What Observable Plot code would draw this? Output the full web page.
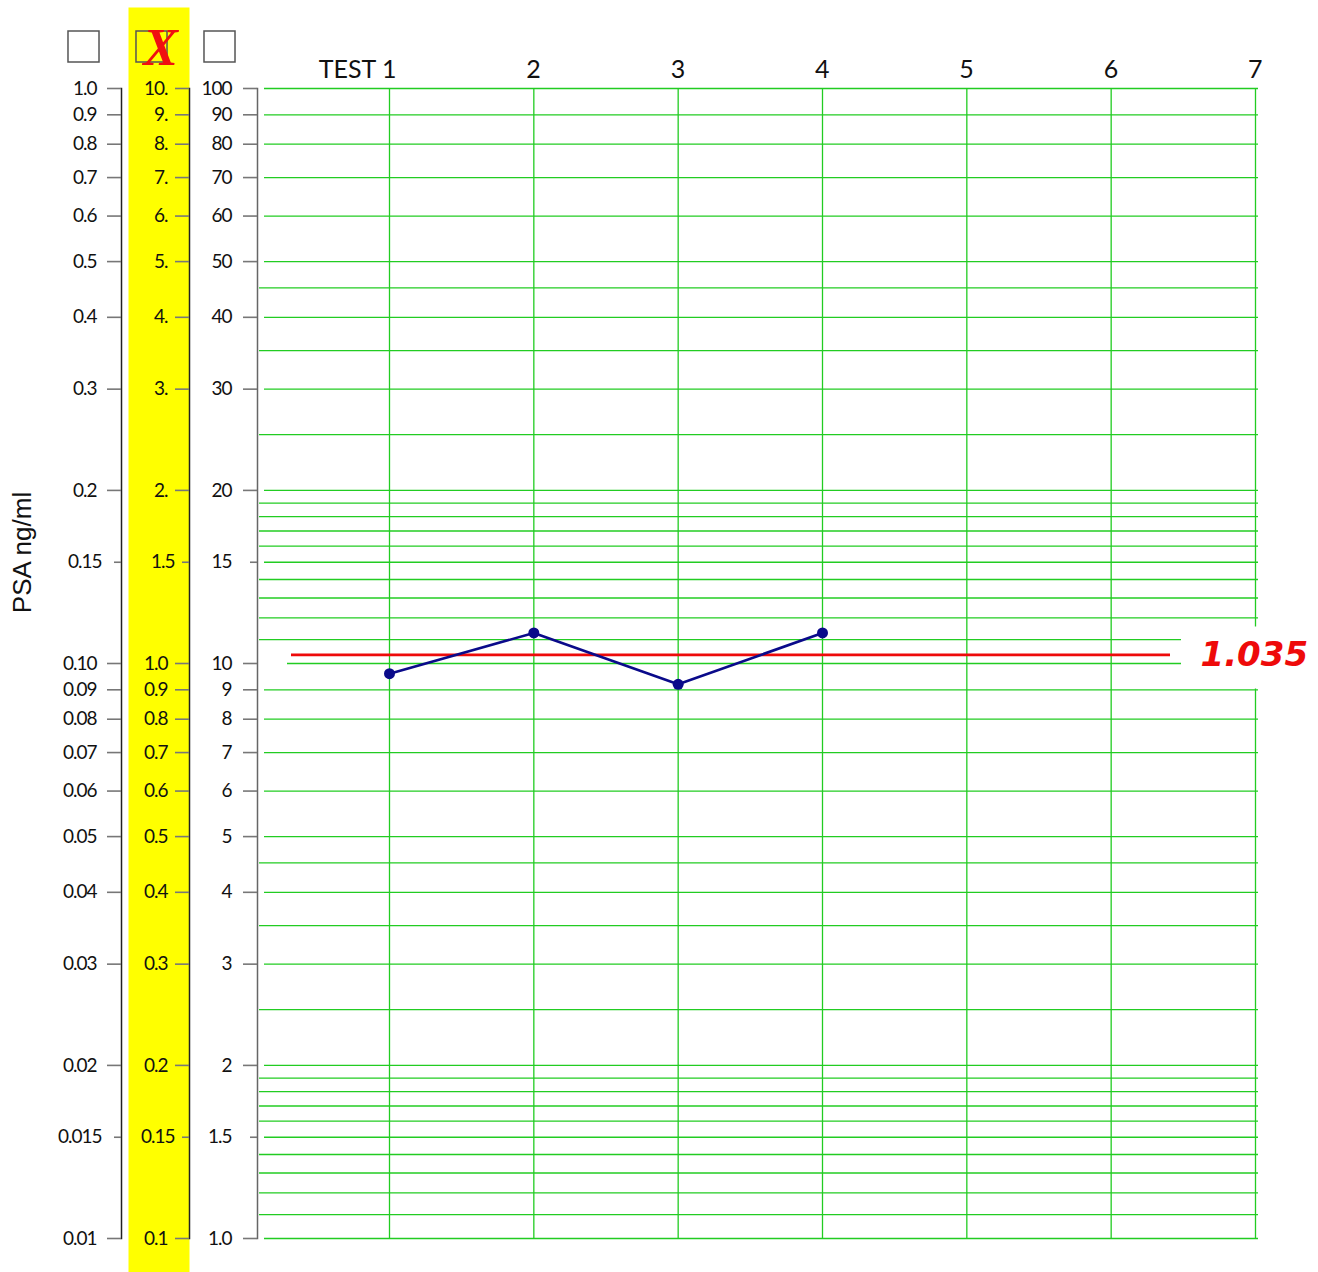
<!DOCTYPE html>
<html>
<head>
<meta charset="utf-8">
<script src="https://cdn.jsdelivr.net/npm/d3@7"></script>
<script src="https://cdn.jsdelivr.net/npm/@observablehq/plot@0.6"></script>
<style>
  html, body { margin: 0; padding: 0; background: #fff; }
  #chart { width: 1318px; height: 1272px; overflow: hidden; }
  #chart g[aria-label="y-axis tick label"] text { letter-spacing: -1px; }
</style>
</head>
<body>
<div id="chart"></div>
<script>
// PSA readings (ng/ml) for each test, read on the highlighted 0.1–10 scale
const tests = [1, 2, 3, 4];
const psa = [0.96, 1.13, 0.92, 1.13];

// Test columns across the top of the sheet
const testSlots = [1, 2, 3, 4, 5, 6, 7];
const testLabels = ["TEST 1", "2", "3", "4", "5", "6", "7"];

// Labelled ticks (in units of the middle scale) and their text on each of the three scales
const majorTicks = [0.1, 0.2, 0.3, 0.4, 0.5, 0.6, 0.7, 0.8, 0.9, 1, 2, 3, 4, 5, 6, 7, 8, 9, 10];
const lowLabels  = ["0.01", "0.02", "0.03", "0.04", "0.05", "0.06", "0.07", "0.08", "0.09", "0.10",
                    "0.2", "0.3", "0.4", "0.5", "0.6", "0.7", "0.8", "0.9", "1.0"];
const midLabels  = ["0.1", "0.2", "0.3", "0.4", "0.5", "0.6", "0.7", "0.8", "0.9", "1.0",
                    "2.", "3.", "4.", "5.", "6.", "7.", "8.", "9.", "10."];
const highLabels = ["1.0", "2", "3", "4", "5", "6", "7", "8", "9", "10",
                    "20", "30", "40", "50", "60", "70", "80", "90", "100"];

// Short "one and a half" ticks
const halfTicks = [0.15, 1.5];
const lowHalfLabels = ["0.015", "0.15"];
const midHalfLabels = ["0.15", "1.5"];
const highHalfLabels = ["1.5", "15"];

// Extra unlabelled ruling of the graph paper
const paperLines = [0.11, 0.12, 0.13, 0.14, 0.16, 0.17, 0.18, 0.19, 0.25, 0.35, 0.45,
                    1.1, 1.2, 1.3, 1.4, 1.6, 1.7, 1.8, 1.9, 2.5, 3.5, 4.5];

const rows = tests.map((t, i) => ({test: t, psa: psa[i]}));
const average = d3.mean(psa);

const GREEN = "#22cc22";
const NAVY = "#0a0a8a";
const RED = "#ee0a0a";

// The three printed scales share one log axis, offset sideways from the grid
const scales = [
  {dx: -136, major: lowLabels,  half: lowHalfLabels,  pad: 11, halfPad: 13, line: "#222"},
  {dx: -68,  major: midLabels,  half: midHalfLabels,  pad: 8,  halfPad: 8,  line: "#222"},
  {dx: 0,    major: highLabels, half: highHalfLabels, pad: 12, halfPad: 19, line: "#666"}
];

function scaleMarks(s, i) {
  const majorText = new Map(majorTicks.map((v, k) => [v, s.major[k]]));
  const halfText = new Map(halfTicks.map((v, k) => [v, s.half[k]]));
  return [
    Plot.frame({anchor: "left", dx: s.dx, stroke: s.line, strokeWidth: 1.5}),
    Plot.axisY(majorTicks, {anchor: "left", label: null, dx: s.dx, tickSize: 14, tickPadding: s.pad,
      tickFormat: (d) => majorText.get(d), stroke: "#777", strokeWidth: 1.6, fill: "#111", fontSize: 19}),
    Plot.axisY(halfTicks, {anchor: "left", label: null, dx: s.dx, tickSize: 7, tickPadding: s.halfPad,
      tickFormat: (d) => halfText.get(d), stroke: "#777", strokeWidth: 1.6, fill: "#111", fontSize: 19}),
    // selection box above each scale
    Plot.dot([i], {frameAnchor: "top-left", dx: s.dx - 38, dy: -42, symbol: "square", r: 17.5,
      fill: "none", stroke: "#555", strokeWidth: 1.5})
  ];
}

const chart = Plot.plot({
  width: 1318,
  height: 1272,
  marginTop: 88,
  marginBottom: 34,
  marginLeft: 257,
  marginRight: 60,
  x: {domain: [1, 7], range: [389, 1255], axis: null},
  y: {type: "log", domain: [0.1, 10], axis: null, label: null},
  style: {fontFamily: "Lato, sans-serif", fontSize: "19px", color: "#111", background: "#fff", overflow: "visible"},
  marks: [
    // highlighted column behind the chosen scale
    Plot.frame({anchor: "left", dx: -98.5, insetTop: -81, insetBottom: -40, stroke: "#ffff00",
      strokeWidth: 61, strokeLinecap: "butt"}),

    // graph paper
    Plot.ruleY(paperLines, {stroke: GREEN, strokeWidth: 1.3, insetLeft: 2}),
    Plot.ruleY([...majorTicks, ...halfTicks], {stroke: GREEN, strokeWidth: 1.3, insetLeft: 7}),
    Plot.ruleX(testSlots, {stroke: GREEN, strokeWidth: 1.3}),

    // clear space around the average line and its label
    Plot.ruleY([average], {stroke: "#fff", strokeWidth: 22, insetLeft: 2, insetRight: 971}),
    Plot.ruleY([average], {stroke: "#fff", strokeWidth: 62, dy: 2.5, insetLeft: 924, insetRight: -60}),

    ...scales.flatMap(scaleMarks),

    Plot.text(testSlots, {x: (d) => d, text: (d, i) => testLabels[i], frameAnchor: "top",
      lineAnchor: "bottom", dy: -11, textAnchor: "end", dx: 7, fontSize: 25, fill: "#111"}),

    Plot.text(["X"], {text: (d) => d, frameAnchor: "top-left", textAnchor: "middle", lineAnchor: "middle",
      dx: -97, dy: -40, fill: "#f01010", fontSize: 52, fontWeight: "bold", fontStyle: "italic",
      fontFamily: "Liberation Serif"}),

    Plot.text(["PSA ng/ml"], {text: (d) => d, frameAnchor: "left", textAnchor: "middle", lineAnchor: "middle",
      rotate: -90, dx: -235, dy: -111, fontSize: 26, fontFamily: "Liberation Sans", fill: "#111"}),

    // average of the readings
    Plot.ruleY([average], {stroke: RED, strokeWidth: 2.6, insetLeft: 34, insetRight: 88}),
    Plot.text([average], {y: (d) => d, text: (d) => d3.format(".3f")(d), frameAnchor: "right",
      textAnchor: "start", dx: -58, fill: RED, fontSize: 34, fontWeight: "bold", fontStyle: "italic",
      fontFamily: "DejaVu Sans"}),

    // readings
    Plot.line(rows, {x: "test", y: "psa", stroke: NAVY, strokeWidth: 2.6}),
    Plot.dot(rows, {x: "test", y: "psa", fill: NAVY, r: 5.5})
  ]
});

document.getElementById("chart").append(chart);
</script>
</body>
</html>
